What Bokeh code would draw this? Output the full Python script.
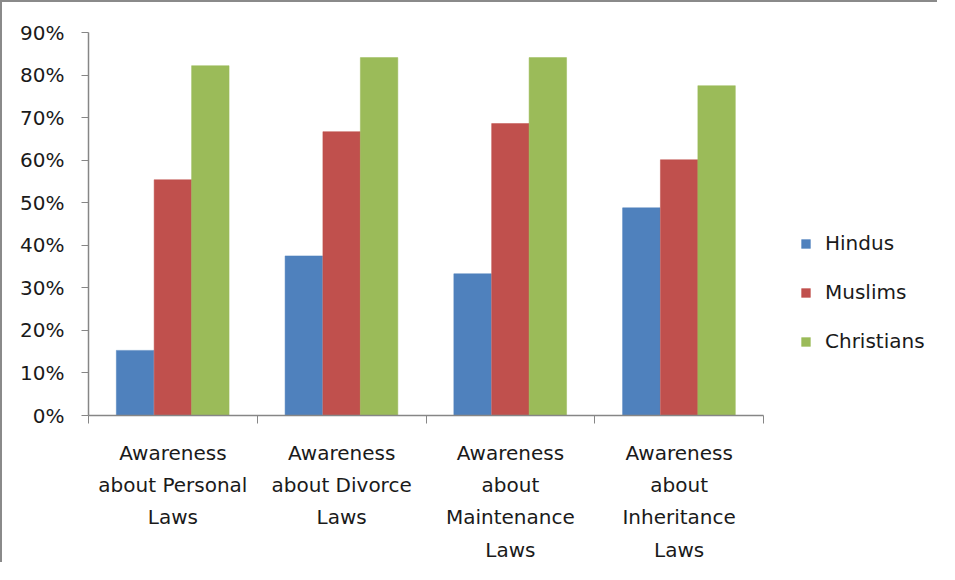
from bokeh.plotting import figure
from bokeh.models import (ColumnDataSource, Range1d, FixedTicker, NumeralTickFormatter,
                          Legend, LegendItem)
from bokeh.transform import dodge
from bokeh.embed import file_html
from bokeh.resources import INLINE

categories = ["Awareness\nabout Personal\nLaws",
              "Awareness\nabout Divorce\nLaws",
              "Awareness\nabout\nMaintenance\nLaws",
              "Awareness\nabout\nInheritance\nLaws"]
series = ["Hindus", "Muslims", "Christians"]
hindus = [0.153, 0.375, 0.333, 0.488]
muslims = [0.554, 0.667, 0.686, 0.601]
christians = [0.822, 0.841, 0.841, 0.775]
colors = ["#4F81BD", "#C0504D", "#9BBB59"]
y_ticks = [0.0, 0.1, 0.2, 0.3, 0.4, 0.5, 0.6, 0.7, 0.8, 0.9]

W, H = 937, 562
left, right_border, top, bottom = 86, 8, 30, 149
axis_px = 675.0  # pixel length of the category axis
frame_w = W - left - right_border
ncat = len(categories)
x_end = ncat * frame_w / axis_px

centers = [i + 0.5 for i in range(ncat)]
src = ColumnDataSource(dict(x=centers, Hindus=hindus, Muslims=muslims, Christians=christians))

p = figure(width=W, height=H, output_backend="svg", toolbar_location=None,
           x_range=Range1d(0, x_end), y_range=Range1d(0, 0.9),
           min_border_left=left, min_border_right=right_border,
           min_border_top=top, min_border_bottom=bottom)
p.outline_line_color = None
p.xgrid.visible = False
p.ygrid.visible = False
p.styles = {"border-left": "2px solid #8a8a8a", "border-top": "2px solid #8a8a8a"}

bw = 0.222
offsets = [-0.224, 0.0, 0.222]
renderers = []
for s, c, off in zip(series, colors, offsets):
    r = p.vbar(x=dodge("x", off, range=p.x_range), top=s, width=bw, source=src,
               fill_color=c, line_color=c, line_width=0.5)
    renderers.append(r)

font = "DejaVu Sans"
txt = "#1a1a1a"
axc = "#868686"
fs = "20px"

xa = p.xaxis[0]
xa.ticker = FixedTicker(ticks=centers, minor_ticks=list(range(ncat + 1)))
xa.major_label_overrides = {c: lab for c, lab in zip(centers, categories)}
xa.bounds = (0, ncat)
xa.major_tick_line_color = None
xa.major_tick_out = 0
xa.major_tick_in = 0
xa.minor_tick_in = 0
xa.minor_tick_out = 8
xa.minor_tick_line_color = axc
xa.axis_line_color = axc
xa.axis_line_width = 1.5
xa.major_label_text_font = font
xa.major_label_text_font_size = fs
xa.major_label_text_color = txt
xa.major_label_text_line_height = 1.35
xa.major_label_standoff = 17

ya = p.yaxis[0]
ya.ticker = FixedTicker(ticks=y_ticks)
ya.formatter = NumeralTickFormatter(format="0%")
ya.minor_tick_line_color = None
ya.major_tick_in = 0
ya.major_tick_out = 7
ya.major_tick_line_color = axc
ya.axis_line_color = axc
ya.axis_line_width = 1.5
ya.major_label_text_font = font
ya.major_label_text_font_size = fs
ya.major_label_text_color = txt
ya.major_label_standoff = 17

legend = Legend(items=[LegendItem(label=s, renderers=[r]) for s, r in zip(series, renderers)],
                location=(712, 62), orientation="vertical",
                glyph_width=11, glyph_height=11, spacing=25, padding=4,
                label_text_font=font, label_text_font_size=fs, label_text_color=txt,
                label_standoff=14, border_line_color=None, background_fill_alpha=0)
p.add_layout(legend, "center")

open("out.html", "w").write(file_html(p, INLINE))
